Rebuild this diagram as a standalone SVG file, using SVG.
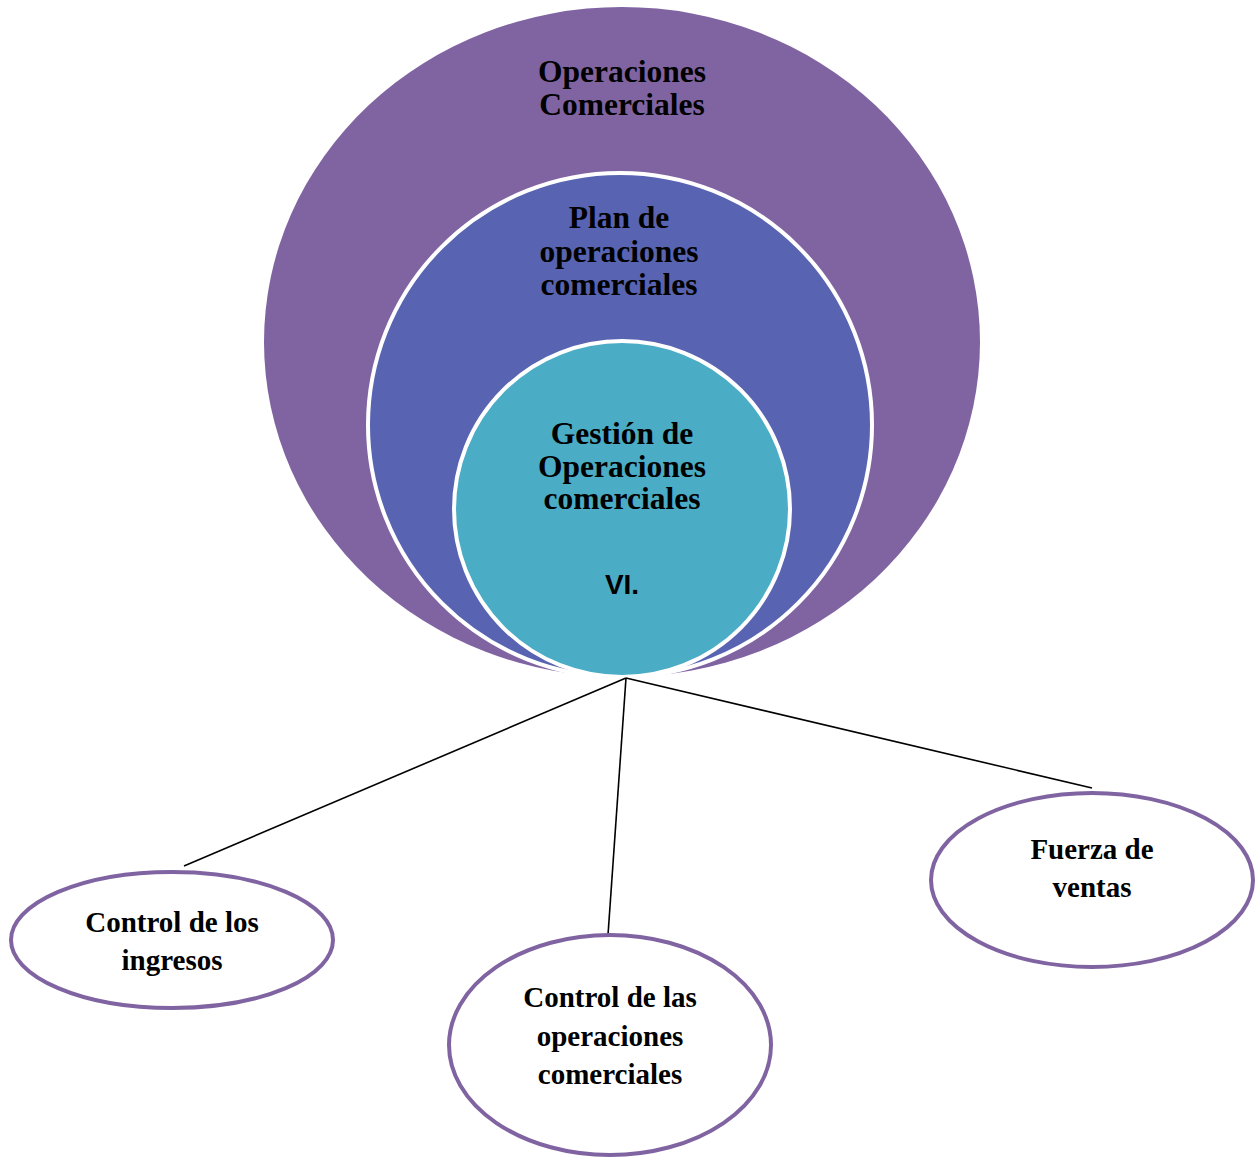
<svg xmlns="http://www.w3.org/2000/svg" width="1259" height="1158" viewBox="0 0 1259 1158">
  <style>
    .t { font-family: "Liberation Serif", "Times New Roman", serif; font-weight: bold; fill: #000; text-anchor: middle; }
    .big { font-size: 31.5px; }
    .small { font-size: 29px; }
    .sans { font-family: "Liberation Sans", Arial, sans-serif; font-weight: bold; font-size: 28px; text-anchor: middle; fill: #000; }
    .leaf { fill: #fff; stroke: #8064A2; stroke-width: 4; }
    .ring { stroke: #fff; stroke-width: 4; }
    .conn line { stroke: #000; stroke-width: 1.6; }
  </style>

  <!-- nested target -->
  <g id="operaciones-comerciales">
    <ellipse cx="622" cy="342" rx="358" ry="335" fill="#8064A2"/>
    <text class="t big" x="622" y="82">Operaciones</text>
    <text class="t big" x="622" y="115">Comerciales</text>
  </g>
  <g id="plan-operaciones">
    <circle class="ring" cx="620" cy="425" r="252" fill="#5864B1"/>
    <text class="t big" x="619" y="228">Plan de</text>
    <text class="t big" x="619" y="262">operaciones</text>
    <text class="t big" x="619" y="295">comerciales</text>
  </g>
  <g id="gestion-operaciones">
    <circle class="ring" cx="622" cy="509" r="168" fill="#4BACC6"/>
    <text class="t big" x="622" y="444">Gestión de</text>
    <text class="t big" x="622" y="477">Operaciones</text>
    <text class="t big" x="622" y="509">comerciales</text>
    <text class="sans" x="622" y="594">VI.</text>
  </g>

  <!-- connectors -->
  <g class="conn">
    <line x1="626" y1="678" x2="184" y2="866"/>
    <line x1="626" y1="678" x2="608" y2="935"/>
    <line x1="626" y1="678" x2="1092" y2="788"/>
  </g>

  <g id="control-ingresos">
    <ellipse class="leaf" cx="172" cy="940" rx="161" ry="68"/>
    <text class="t small" x="172" y="932">Control de los</text>
    <text class="t small" x="172" y="970">ingresos</text>
  </g>
  <g id="control-operaciones">
    <ellipse class="leaf" cx="610" cy="1045" rx="161" ry="110"/>
    <text class="t small" x="610" y="1007">Control de las</text>
    <text class="t small" x="610" y="1046">operaciones</text>
    <text class="t small" x="610" y="1084">comerciales</text>
  </g>
  <g id="fuerza-ventas">
    <ellipse class="leaf" cx="1092" cy="880" rx="161" ry="87"/>
    <text class="t small" x="1092" y="859">Fuerza de</text>
    <text class="t small" x="1092" y="897">ventas</text>
  </g>
</svg>
